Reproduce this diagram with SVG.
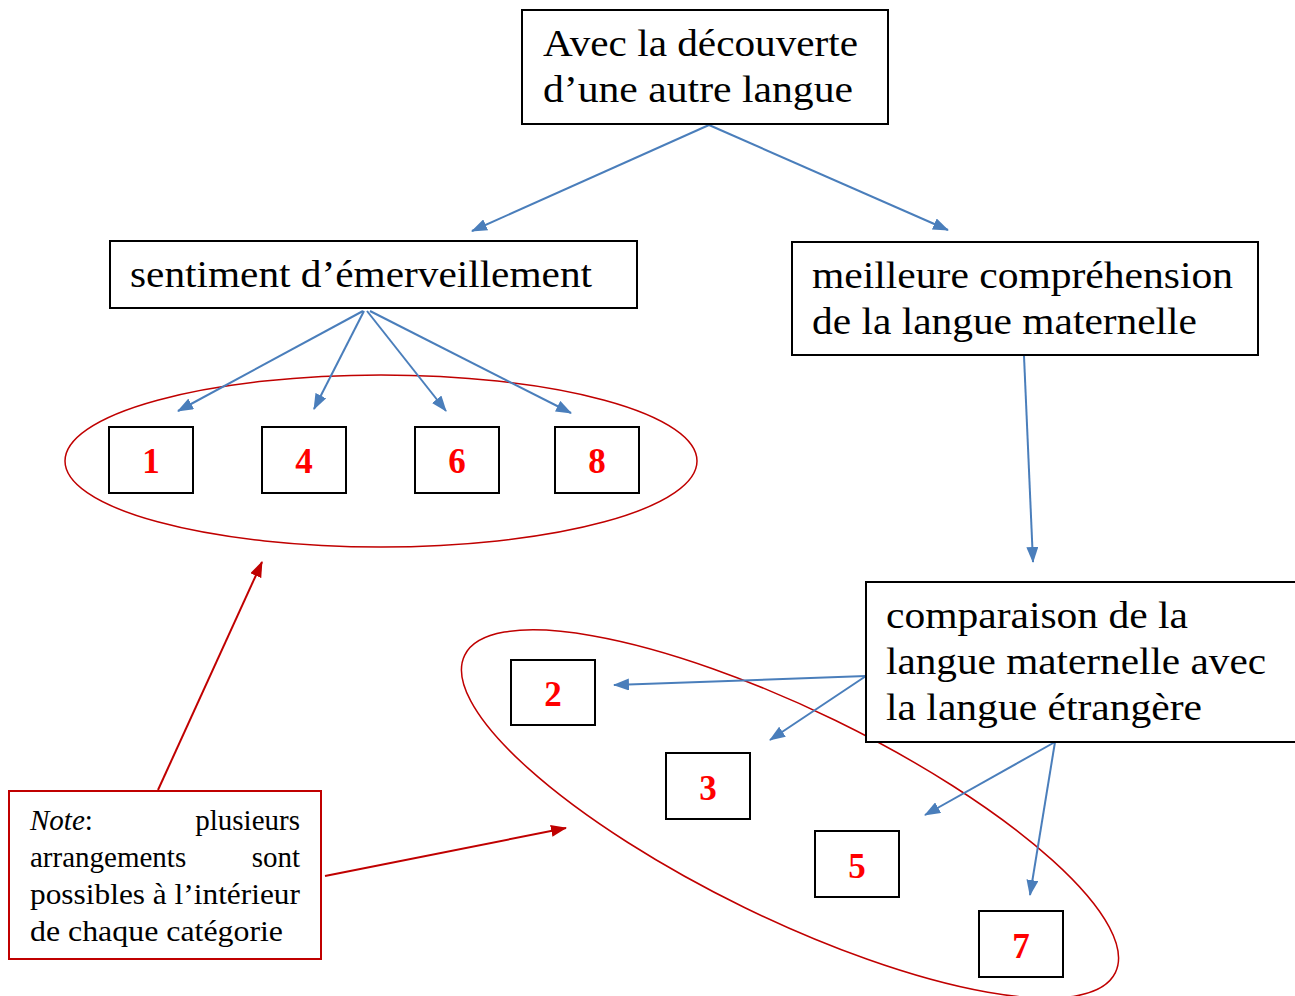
<svg xmlns="http://www.w3.org/2000/svg" width="1295" height="996" viewBox="0 0 1295 996">
<style>
.box{fill:#fff;stroke:#000;stroke-width:2}
.t{font-family:"Liberation Serif",serif;font-size:37px;fill:#000}
.n{font-family:"Liberation Serif",serif;font-size:35px;font-weight:bold;fill:#ff0000;text-anchor:middle}
.note{font-family:"Liberation Serif",serif;font-size:29px;fill:#000}
.blue{stroke:#4a7ebb;stroke-width:2;fill:none;marker-end:url(#ab)}
.red{stroke:#c00000;stroke-width:2;fill:none;marker-end:url(#ar)}
.ell{fill:none;stroke:#c00000;stroke-width:1.5}
</style>
<defs>
<marker id="ab" markerWidth="16" markerHeight="12" refX="15" refY="6" orient="auto" markerUnits="userSpaceOnUse" viewBox="0 0 16 12">
<path d="M0,0 L16,6 L0,12 z" fill="#4a7ebb"/>
</marker>
<marker id="ar" markerWidth="16" markerHeight="12" refX="15" refY="6" orient="auto" markerUnits="userSpaceOnUse" viewBox="0 0 16 12">
<path d="M0,0 L16,6 L0,12 z" fill="#c00000"/>
</marker>
</defs>
<rect width="1295" height="996" fill="#fff"/>
<g id="ellipses">
<ellipse class="ell" cx="381" cy="461" rx="316" ry="86"/>
<ellipse class="ell" cx="790" cy="814" rx="362" ry="104" transform="rotate(26 790 814)"/>
</g>
<g id="connectors">
<line class="blue" x1="709" y1="125" x2="472" y2="231"/>
<line class="blue" x1="709" y1="125" x2="948" y2="230"/>
<line class="blue" x1="363" y1="311" x2="178" y2="411"/>
<line class="blue" x1="364" y1="311" x2="314" y2="409"/>
<line class="blue" x1="367" y1="311" x2="446" y2="411"/>
<line class="blue" x1="370" y1="311" x2="571" y2="413"/>
<line class="blue" x1="1024" y1="356" x2="1033" y2="562"/>
<line class="blue" x1="866" y1="676" x2="614" y2="685"/>
<line class="blue" x1="866" y1="676" x2="770" y2="740"/>
<line class="blue" x1="1055" y1="742" x2="925" y2="815"/>
<line class="blue" x1="1055" y1="742" x2="1030" y2="895"/>
<line class="red" x1="158" y1="790" x2="262" y2="562"/>
<line class="red" x1="325" y1="876" x2="566" y2="828"/>
</g>
<g id="top">
<rect class="box" x="522" y="10" width="366" height="114"/>
<text class="t" x="543" y="56" textLength="315" lengthAdjust="spacingAndGlyphs">Avec la découverte</text>
<text class="t" x="543" y="102" textLength="310" lengthAdjust="spacingAndGlyphs">d’une autre langue</text>
</g>
<g id="sentiment">
<rect class="box" x="110" y="241" width="527" height="67"/>
<text class="t" x="130" y="287" textLength="462" lengthAdjust="spacingAndGlyphs">sentiment d’émerveillement</text>
</g>
<g id="meilleure">
<rect class="box" x="792" y="242" width="466" height="113"/>
<text class="t" x="812" y="288" textLength="421" lengthAdjust="spacingAndGlyphs">meilleure compréhension</text>
<text class="t" x="812" y="334" textLength="385" lengthAdjust="spacingAndGlyphs">de la langue maternelle</text>
</g>
<g id="comparaison">
<rect class="box" x="866" y="582" width="432" height="160"/>
<text class="t" x="886" y="628" textLength="302" lengthAdjust="spacingAndGlyphs">comparaison de la</text>
<text class="t" x="886" y="674" textLength="380" lengthAdjust="spacingAndGlyphs">langue maternelle avec</text>
<text class="t" x="886" y="720" textLength="316" lengthAdjust="spacingAndGlyphs">la langue étrangère</text>
</g>
<g id="n1"><rect class="box" x="109" y="427" width="84" height="66"/><text class="n" x="151" y="473">1</text></g>
<g id="n4"><rect class="box" x="262" y="427" width="84" height="66"/><text class="n" x="304" y="473">4</text></g>
<g id="n6"><rect class="box" x="415" y="427" width="84" height="66"/><text class="n" x="457" y="473">6</text></g>
<g id="n8"><rect class="box" x="555" y="427" width="84" height="66"/><text class="n" x="597" y="473">8</text></g>
<g id="n2"><rect class="box" x="511" y="660" width="84" height="65"/><text class="n" x="553" y="706">2</text></g>
<g id="n3"><rect class="box" x="666" y="753" width="84" height="66"/><text class="n" x="708" y="800">3</text></g>
<g id="n5"><rect class="box" x="815" y="831" width="84" height="66"/><text class="n" x="857" y="878">5</text></g>
<g id="n7"><rect class="box" x="979" y="911" width="84" height="66"/><text class="n" x="1021" y="958">7</text></g>
<g id="note">
<rect x="9" y="791" width="312" height="168" fill="#fff" stroke="#c00000" stroke-width="2"/>
<text class="note" x="30" y="830"><tspan font-style="italic">Note</tspan>:</text>
<text class="note" x="300" y="830" text-anchor="end">plusieurs</text>
<text class="note" x="30" y="867">arrangements</text>
<text class="note" x="300" y="867" text-anchor="end">sont</text>
<text class="note" x="30" y="904" textLength="270" lengthAdjust="spacingAndGlyphs">possibles à l’intérieur</text>
<text class="note" x="30" y="941" textLength="253" lengthAdjust="spacingAndGlyphs">de chaque catégorie</text>
</g>
</svg>
